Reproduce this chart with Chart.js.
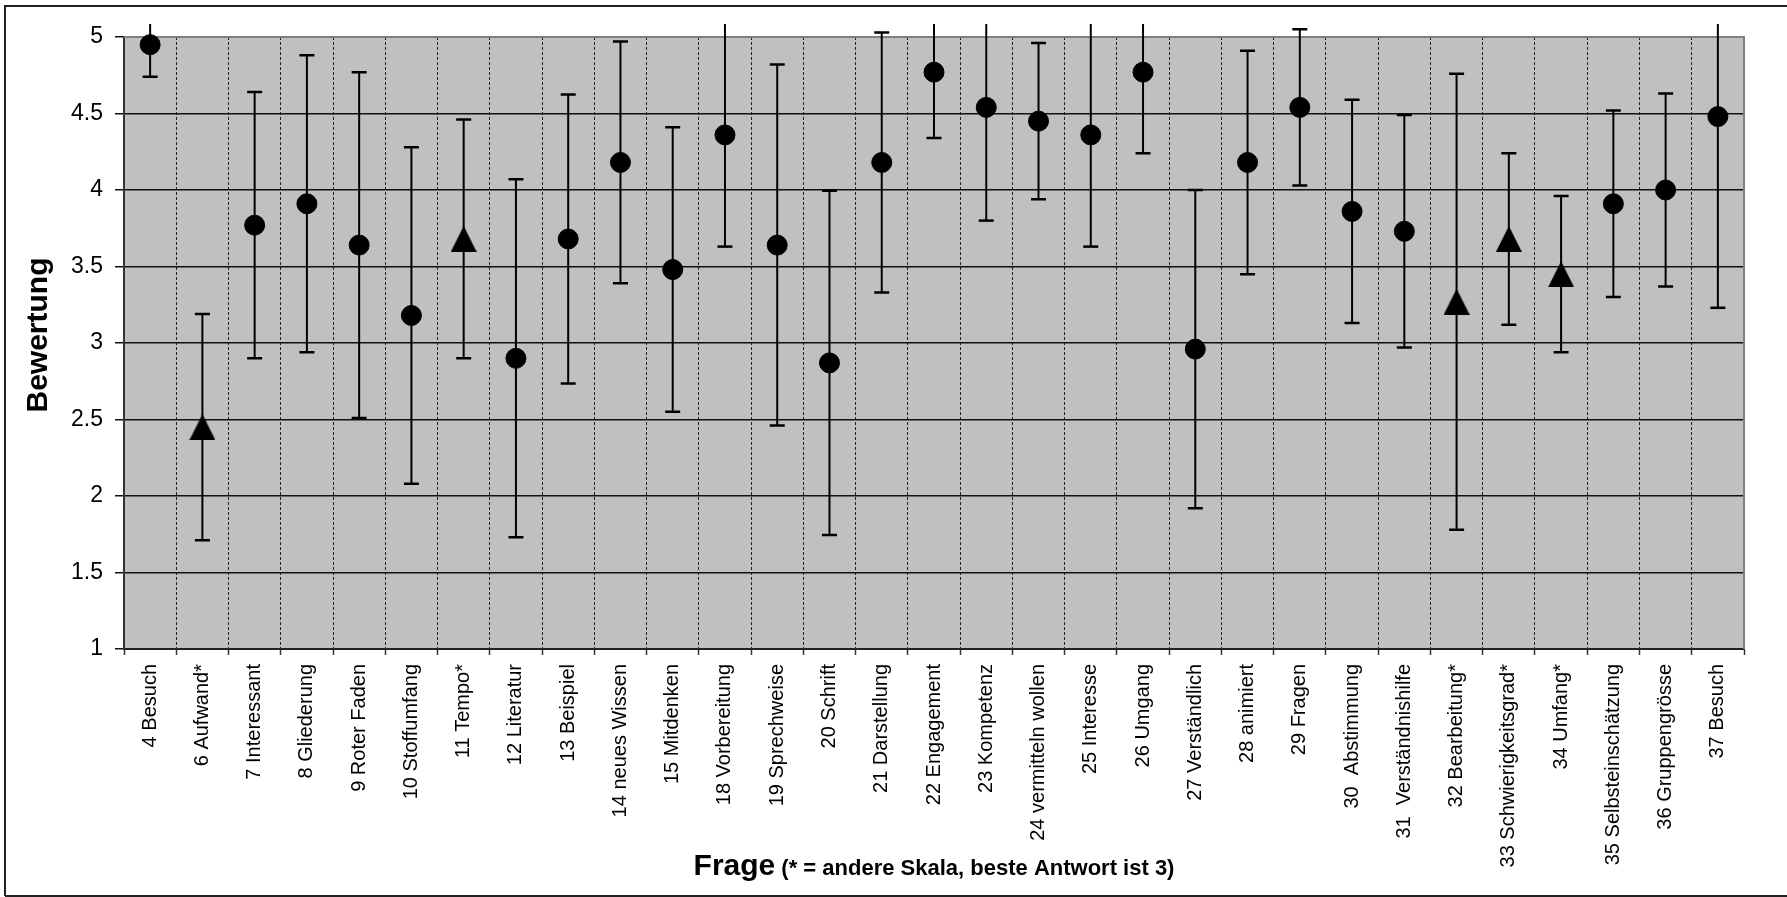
<!DOCTYPE html>
<html>
<head>
<meta charset="utf-8">
<script src="https://cdn.jsdelivr.net/npm/chart.js@4.4.1/dist/chart.umd.min.js"></script>
<style>
  html, body { margin: 0; padding: 0; background: #fff; }
</style>
</head>
<body>
<canvas id="chart" width="1787" height="897"></canvas>
<script>
// ============================= DADOS =============================
const categories = ['4 Besuch', '6 Aufwand*', '7 Interessant', '8 Gliederung', '9 Roter Faden',
    '10 Stoffumfang', '11 Tempo*', '12 Literatur', '13 Beispiel', '14 neues Wissen',
    '15 Mitdenken', '18 Vorbereitung', '19 Sprechweise', '20 Schrift', '21 Darstellung',
    '22 Engagement', '23 Kompetenz', '24 vermitteln wollen', '25 Interesse', '26 Umgang',
    '27 Verständlich', '28 animiert', '29 Fragen', '30  Abstimmung', '31  Verständnishilfe',
    '32 Bearbeitung*', '33 Schwierigkeitsgrad*', '34 Umfang*', '35 Selbsteinschätzung',
    '36 Gruppengrösse', '37 Besuch']

const means = [4.95, 2.45, 3.77, 3.91, 3.64, 3.18, 3.68, 2.90, 3.68, 4.18,
    3.48, 4.36, 3.64, 2.87, 4.18, 4.77, 4.54, 4.45, 4.36, 4.77,
    2.96, 4.18, 4.54, 3.86, 3.73, 3.27, 3.68, 3.45, 3.91, 4.00, 4.48]

const deviations = [0.21, 0.74, 0.87, 0.97, 1.13, 1.10, 0.78, 1.17, 0.945, 0.79,
    0.93, 0.73, 1.18, 1.125, 0.85, 0.43, 0.74, 0.51, 0.73, 0.53,
    1.04, 0.73, 0.51, 0.73, 0.76, 1.49, 0.56, 0.51, 0.61, 0.63, 1.25]

// true = andere Skala (Dreieck)
const otherScale = [false, true, false, false, false, false, true, false, false, false,
    false, false, false, false, false, false, false, false, false, false,
    false, false, false, false, false, true, true, true, false, false, false]

const yMin = 1, yMax = 5, yStep = 0.5

const fontFamily = '"Liberation Sans", Arial, sans-serif'

// ============================= MARKER =============================
const triangle = document.createElement('canvas')
triangle.width = 26
triangle.height = 26
const tctx = triangle.getContext('2d')
tctx.fillStyle = '#000'
tctx.beginPath()
tctx.moveTo(13, 0)
tctx.lineTo(26, 26)
tctx.lineTo(0, 26)
tctx.closePath()
tctx.fill()

// ============================= PLUGINS =============================
const plotBackground = {
    id: 'plotBackground',
    beforeDraw(chart) {
        const {ctx, chartArea: a} = chart
        ctx.save()
        ctx.fillStyle = '#c0c0c0'
        ctx.fillRect(a.left, a.top, a.right - a.left, a.bottom - a.top)
        ctx.restore()
    },
    beforeDatasetsDraw(chart) {
        const {ctx, chartArea: a} = chart
        const x = chart.scales.x, y = chart.scales.y
        ctx.save()
        // Rahmen oben und rechts
        ctx.strokeStyle = '#808080'
        ctx.lineWidth = 2
        ctx.beginPath()
        ctx.moveTo(a.left, a.top)
        ctx.lineTo(a.right, a.top)
        ctx.lineTo(a.right, a.bottom)
        ctx.stroke()

        // Fehlerbalken
        const limit = a.top - 13
        ctx.strokeStyle = '#000'
        means.forEach((m, i) => {
            const px = x.getPixelForValue(i)
            const lo = y.getPixelForValue(m - deviations[i])
            const hiRaw = y.getPixelForValue(m + deviations[i])
            const hi = Math.max(hiRaw, limit)
            ctx.lineWidth = 2
            ctx.beginPath()
            ctx.moveTo(px, lo)
            ctx.lineTo(px, hi)
            ctx.stroke()
            ctx.lineWidth = 2.5
            ctx.beginPath()
            ctx.moveTo(px - 7.5, lo)
            ctx.lineTo(px + 7.5, lo)
            if (hiRaw >= limit) {
                ctx.moveTo(px - 7.5, hiRaw)
                ctx.lineTo(px + 7.5, hiRaw)
            }
            ctx.stroke()
        })
        ctx.restore()
    },
    afterDraw(chart) {
        const {ctx, chartArea: a} = chart
        ctx.save()
        ctx.fillStyle = '#000'

        // Y-Achsentitel
        ctx.save()
        ctx.translate(39, 335)
        ctx.rotate(-Math.PI / 2)
        ctx.font = 'bold 30px ' + fontFamily
        ctx.textAlign = 'center'
        ctx.textBaseline = 'middle'
        ctx.fillText('Bewertung', 0, 0)
        ctx.restore()

        // X-Achsentitel
        const big = 'bold 30px ' + fontFamily
        const small = 'bold 22px ' + fontFamily
        const t1 = 'Frage', t2 = ' (* = andere Skala, beste Antwort ist 3)'
        ctx.font = big
        const w1 = ctx.measureText(t1).width
        ctx.font = small
        const w2 = ctx.measureText(t2).width
        const cx = (a.left + a.right) / 2
        let sx = cx - (w1 + w2) / 2
        ctx.textBaseline = 'alphabetic'
        ctx.textAlign = 'left'
        ctx.font = big
        ctx.fillText(t1, sx, 875)
        ctx.font = small
        ctx.fillText(t2, sx + w1, 875)

        // äusserer Rahmen
        ctx.strokeStyle = '#222'
        ctx.lineWidth = 2
        ctx.beginPath()
        ctx.moveTo(5, 896)
        ctx.lineTo(5, 6)
        ctx.lineTo(1790, 6)
        ctx.moveTo(5, 896)
        ctx.lineTo(1790, 896)
        ctx.stroke()
        ctx.restore()
    }
}

// ============================= GRÁFICO =============================
const ctxChart = document.getElementById('chart')

new Chart(ctxChart, {
    type: 'line',
    data: {
        labels: categories,
        datasets: [{
            data: means,
            showLine: false,
            clip: false,
            pointStyle: otherScale.map(o => o ? triangle : 'circle'),
            pointRadius: 10,
            pointHoverRadius: 10,
            pointBackgroundColor: '#000',
            pointBorderColor: '#000',
            pointBorderWidth: 1
        }]
    },
    options: {
        responsive: false,
        animation: false,
        devicePixelRatio: 1,
        events: [],
        layout: { padding: { left: 10, top: 37, right: 43, bottom: 0 } },
        plugins: { legend: { display: false }, tooltip: { enabled: false } },
        scales: {
            x: {
                offset: true,
                grid: { offset: true, color: '#222', lineWidth: 1, tickLength: 6, tickColor: '#333', tickWidth: 1.5, tickBorderDash: [] },
                border: { dash: [3, 2], color: '#222', width: 2 },
                ticks: { autoSkip: false, maxRotation: 90, minRotation: 90, padding: 9, color: '#000',
                    font: { size: 20, family: fontFamily } },
                afterFit(s) { s.height = 248 }
            },
            y: {
                min: yMin,
                max: yMax,
                ticks: { stepSize: yStep, padding: 12, color: '#000', font: { size: 23, family: fontFamily },
                    callback: v => String(v) },
                grid: { color: '#111', lineWidth: 1.5, tickLength: 9 },
                border: { color: '#333', width: 2 },
                afterFit(s) { s.width = 114 }
            }
        }
    },
    plugins: [plotBackground]
})
</script>
</body>
</html>
